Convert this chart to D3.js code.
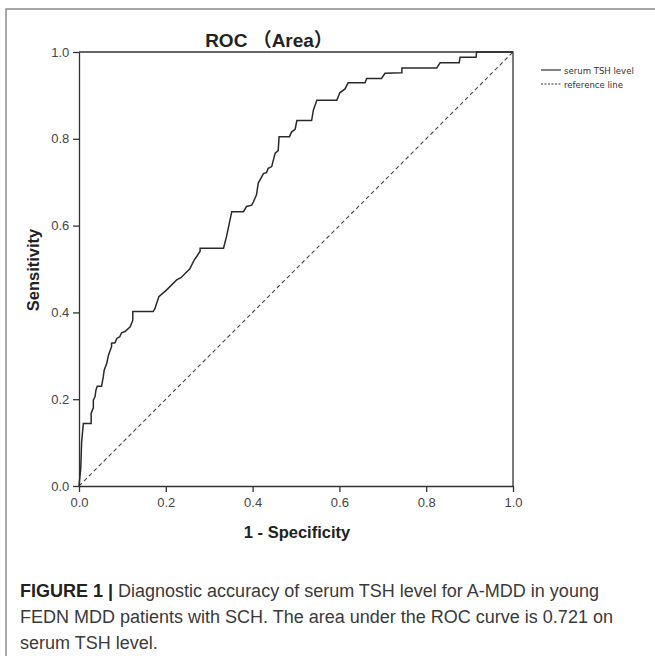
<!DOCTYPE html>
<head>
  <meta charset="utf-8" />
  <script src="https://d3js.org/d3.v7.min.js"></script>
  <style>
    body { margin: 0; background: #fff; }
    svg { display: block; }
  </style>
</head>
<body>
  <div id="chart"></div>
  <script>
    // ROC points (1 - specificity, sensitivity)
    const fpr = [0, 0.004, 0.006, 0.010, 0.028, 0.028, 0.033, 0.033, 0.037, 0.039, 0.042, 0.052, 0.056, 0.058,
      0.064, 0.068, 0.075, 0.075, 0.083, 0.087, 0.094, 0.098, 0.106, 0.118, 0.124, 0.124, 0.171, 0.175,
      0.184, 0.202, 0.225, 0.235, 0.245, 0.255, 0.265, 0.272, 0.279, 0.279, 0.333, 0.340, 0.352, 0.379,
      0.386, 0.398, 0.402, 0.409, 0.413, 0.425, 0.432, 0.436, 0.444, 0.452, 0.459, 0.461, 0.485, 0.490,
      0.498, 0.502, 0.536, 0.540, 0.548, 0.594, 0.601, 0.613, 0.620, 0.659, 0.663, 0.697, 0.705, 0.744,
      0.744, 0.824, 0.832, 0.876, 0.878, 0.915, 0.916, 1.0];
    const tpr = [0, 0.04, 0.10, 0.144, 0.144, 0.168, 0.180, 0.198, 0.206, 0.221, 0.230, 0.230, 0.252, 0.267,
      0.283, 0.302, 0.321, 0.329, 0.330, 0.340, 0.344, 0.353, 0.356, 0.367, 0.382, 0.402, 0.402, 0.409,
      0.436, 0.452, 0.475, 0.480, 0.490, 0.500, 0.520, 0.530, 0.541, 0.548, 0.548, 0.575, 0.632, 0.632,
      0.644, 0.647, 0.655, 0.671, 0.698, 0.720, 0.722, 0.732, 0.736, 0.767, 0.773, 0.805, 0.805, 0.816,
      0.822, 0.842, 0.842, 0.866, 0.889, 0.889, 0.906, 0.915, 0.929, 0.929, 0.939, 0.939, 0.951, 0.952,
      0.963, 0.963, 0.975, 0.975, 0.988, 0.988, 1.0, 1.0];
    const tickValues = [0, 0.2, 0.4, 0.6, 0.8, 1.0];
    const legendLabels = ["serum TSH level", "reference line"];
    const captionLines = [
      ["FIGURE 1 | ", "Diagnostic accuracy of serum TSH level for A-MDD in young"],
      ["", "FEDN MDD patients with SCH. The area under the ROC curve is 0.721 on"],
      ["", "serum TSH level."]
    ];

    const width = 655, height = 656;
    const plot = { left: 79, top: 52, size: 434 };

    const svg = d3.select("#chart").append("svg")
      .attr("width", width)
      .attr("height", height);

    // cadre de la figure
    svg.append("rect")
      .attr("x", 6).attr("y", 9)
      .attr("width", 700).attr("height", 700)
      .attr("fill", "none")
      .attr("stroke", "#8c8c8c")
      .attr("stroke-width", 1.5);

    const x = d3.scaleLinear().domain([0, 1]).range([plot.left, plot.left + plot.size]);
    const y = d3.scaleLinear().domain([0, 1]).range([plot.top + plot.size, plot.top]);

    const fmt = d3.format(".1f");

    // axes
    const gx = svg.append("g")
      .attr("transform", "translate(0," + (plot.top + plot.size) + ")")
      .call(d3.axisBottom(x).tickValues(tickValues).tickFormat(fmt).tickSize(6).tickSizeOuter(0));
    const gy = svg.append("g")
      .attr("transform", "translate(" + plot.left + ",0)")
      .call(d3.axisLeft(y).tickValues(tickValues).tickFormat(fmt).tickSize(6).tickSizeOuter(0));

    [gx, gy].forEach(function (g) {
      g.select(".domain").attr("stroke", "#333").attr("stroke-width", 1.3);
      g.selectAll(".tick line").attr("stroke", "#333").attr("stroke-width", 1.3);
      g.selectAll(".tick text")
        .attr("fill", "#444")
        .style("font-family", "Liberation Sans, Arial, sans-serif")
        .style("font-size", "13px");
    });
    gx.selectAll(".tick text").attr("dy", "0.95em");
    gy.selectAll(".tick text").attr("dx", "-0.05em");

    // top and right borders
    svg.append("path")
      .attr("d", "M" + x(0) + "," + y(1) + "H" + x(1) + "V" + y(0))
      .attr("fill", "none")
      .attr("stroke", "#333")
      .attr("stroke-width", 1.3);

    // reference line
    svg.append("line")
      .attr("x1", x(0)).attr("y1", y(0))
      .attr("x2", x(1)).attr("y2", y(1))
      .attr("stroke", "#444")
      .attr("stroke-width", 1.1)
      .attr("stroke-dasharray", "4,3");

    // ROC curve
    const points = fpr.map(function (d, i) { return [d, tpr[i]]; });
    svg.append("path")
      .datum(points)
      .attr("fill", "none")
      .attr("stroke", "#2a2a2a")
      .attr("stroke-width", 1.5)
      .attr("d", d3.line().x(function (d) { return x(d[0]); }).y(function (d) { return y(d[1]); }));

    // titre et libellés
    svg.append("text")
      .attr("x", 269).attr("y", 47)
      .attr("text-anchor", "middle")
      .attr("fill", "#222")
      .style("font-family", "Liberation Sans, Arial, 'Noto Sans CJK SC', sans-serif")
      .style("font-weight", "bold")
      .style("font-size", "19px")
      .text("ROC （Area）");

    svg.append("text")
      .attr("transform", "translate(39,270) rotate(-90)")
      .attr("text-anchor", "middle")
      .attr("fill", "#222")
      .style("font-family", "Liberation Sans, Arial, sans-serif")
      .style("font-weight", "bold")
      .style("font-size", "16.5px")
      .text("Sensitivity");

    svg.append("text")
      .attr("x", x(0.5) + 1).attr("y", 538)
      .attr("text-anchor", "middle")
      .attr("fill", "#222")
      .style("font-family", "Liberation Sans, Arial, sans-serif")
      .style("font-weight", "bold")
      .style("font-size", "16.5px")
      .text("1 - Specificity");

    // légende
    const legend = svg.append("g").attr("transform", "translate(541,70)");
    legend.selectAll("line")
      .data(legendLabels)
      .join("line")
      .attr("x1", 0).attr("x2", 20)
      .attr("y1", function (d, i) { return i * 14; })
      .attr("y2", function (d, i) { return i * 14; })
      .attr("stroke", "#333")
      .attr("stroke-width", 1.2)
      .attr("stroke-dasharray", function (d, i) { return i === 1 ? "2,1.5" : null; });
    legend.selectAll("text")
      .data(legendLabels)
      .join("text")
      .attr("x", 23)
      .attr("y", function (d, i) { return i * 14 + 3.5; })
      .attr("fill", "#333")
      .style("font-family", "'DejaVu Sans Condensed', Arial, sans-serif")
      .style("font-stretch", "condensed")
      .style("font-size", "9.5px")
      .text(function (d) { return d; });

    // légende de la figure
    const caption = svg.append("g");
    captionLines.forEach(function (line, i) {
      const t = caption.append("text")
        .attr("x", 20)
        .attr("y", 597 + i * 26)
        .attr("fill", "#3a3a3a")
        .style("font-family", "'Liberation Sans', Arial, sans-serif")
        .style("font-size", "18px");
      if (line[0]) t.append("tspan").style("font-weight", "bold").attr("fill", "#222").text(line[0]);
      t.append("tspan").text(line[1]);
    });
  </script>
</body>
